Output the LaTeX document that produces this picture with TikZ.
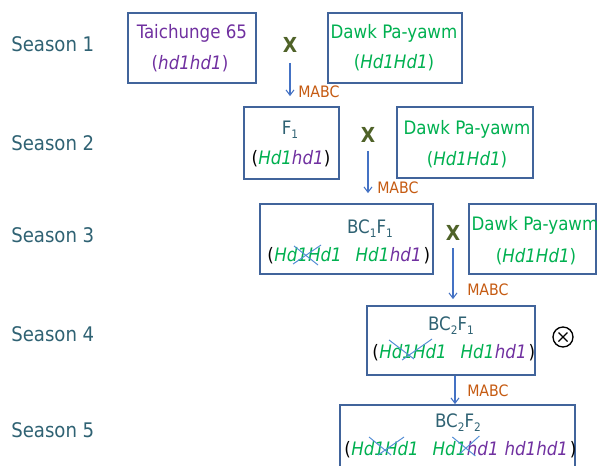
\documentclass[tikz,border=0pt]{standalone}
\usepackage{fontspec}
\setmainfont{DejaVu Sans Condensed}
\usetikzlibrary{arrows.meta}

\definecolor{seasonteal}{RGB}{47,98,115}
\definecolor{boxblue}{RGB}{65,100,155}
\definecolor{genepurple}{RGB}{112,48,160}
\definecolor{genegreen}{RGB}{0,176,80}
\definecolor{mabcbrown}{RGB}{197,90,17}
\definecolor{xolive}{RGB}{79,98,40}
\definecolor{arrowblue}{RGB}{68,114,196}
\definecolor{crossblue}{RGB}{85,142,213}

% lowered small index, as in F_1 or BC_2
\newcommand\lowidx[1]{\raisebox{-0.45ex}{\fontsize{8.8}{9}\selectfont #1}}
\newcommand\geneG[1]{\textcolor{genegreen}{\itshape #1}}
\newcommand\geneP[1]{\textcolor{genepurple}{\itshape #1}}

\tikzset{
  gbox/.style={draw=boxblue, line width=1.3pt, inner sep=0pt},
  txt/.style={inner sep=0pt, anchor=base, font=\fontsize{13.9}{16}\selectfont},
  gword/.style={inner sep=0pt, anchor=base west, text=genegreen,
    font=\fontsize{13.9}{16}\selectfont\itshape},
  pword/.style={gword, text=genepurple},
  season/.style={inner sep=0pt, anchor=base west, text=seasonteal,
    font=\fontsize{15.1}{18}\selectfont},
  crossmark/.style={inner sep=1pt, text=xolive, font=\bfseries\fontsize{15.5}{18}\selectfont},
  flow/.style={draw=arrowblue, line width=0.8pt, -{Straight Barb[length=4pt,width=6pt]}},
  mabc/.style={inner sep=0pt, anchor=west, text=mabcbrown, font=\fontsize{11.8}{13}\selectfont},
  xline/.style={draw=crossblue, line width=0.75pt},
}

\begin{document}
\begin{tikzpicture}[x=0.75pt, y=-0.75pt]
\useasboundingbox (0,0) rectangle (597,465);
\clip (0,0) rectangle (597,465);

% season labels
\node[season] (s1) at (11,51)  {Season 1};
\node[season] (s2) at (11,150) {Season 2};
\node[season] (s3) at (11,242) {Season 3};
\node[season] (s4) at (11,341) {Season 4};
\node[season] (s5) at (11,437) {Season 5};

% season 1: parents
\node[gbox, minimum width=96pt, minimum height=52.5pt] (tc) at (192,48) {};
\node[txt, text=genepurple] (tcname) at (192,38.5) {Taichunge 65};
\node[txt, text=genepurple] (tcgene) at (190,69) {(\textit{hd1hd1})};

\node[gbox, minimum width=100.5pt, minimum height=52.5pt] (dp1) at (395,48) {};
\node[txt, text=genegreen] (dp1name) at (394,38) {Dawk Pa-yawm};
\node[txt, text=genegreen] (dp1gene) at (394,68) {(\textit{Hd1Hd1})};

\node[crossmark] (x1) at (290,45) {X};

% season 2: F1 backcrossed to the recurrent parent
\node[gbox, minimum width=71.25pt, minimum height=54pt] (f1) at (291.5,143) {};
\node[txt, text=seasonteal] (f1name) at (290,134) {F\lowidx{1}};
\node[txt] (f1gene) at (291,164) {(\geneG{Hd1}\geneP{hd1})};

\node[gbox, minimum width=102pt, minimum height=53.25pt] (dp2) at (465,142.5) {};
\node[txt, text=genegreen] (dp2name) at (467,134) {Dawk Pa-yawm};
\node[txt, text=genegreen] (dp2gene) at (467,165) {(\textit{Hd1Hd1})};

\node[crossmark] (x2) at (368,135) {X};

% season 3: BC1F1
\node[gbox, minimum width=129.75pt, minimum height=52.5pt] (bc11) at (346.5,239) {};
\node[txt, text=seasonteal] (bc11name) at (370,233) {BC\lowidx{1}F\lowidx{1}};
\node[txt, anchor=base west] (g3a) at (267,261) {(};
\node[gword] (g3b) at (g3a.base east) {Hd1Hd1};
\node[gword] (g3c) at ([xshift=10pt]g3b.base east) {Hd1};
\node[pword] (g3d) at (g3c.base east) {hd1};
\node[txt, anchor=base west] (g3e) at ([xshift=1pt]g3d.base east) {)};
\draw[xline] ([shift={(20,-15)}]g3b.base west) -- ([shift={(44,4)}]g3b.base west);
\draw[xline] ([shift={(19,3)}]g3b.base west) -- ([shift={(47,-16)}]g3b.base west);

\node[gbox, minimum width=95.25pt, minimum height=52.5pt] (dp3) at (532.5,239) {};
\node[txt, text=genegreen] (dp3name) at (535,230) {Dawk Pa-yawm};
\node[txt, text=genegreen] (dp3gene) at (536,262) {(\textit{Hd1Hd1})};

\node[crossmark] (x3) at (453,233) {X};

% season 4: BC2F1, selfed
\node[gbox, minimum width=126pt, minimum height=51.75pt] (bc21) at (451,340.5) {};
\node[txt, text=seasonteal] (bc21name) at (451,330) {BC\lowidx{2}F\lowidx{1}};
\node[txt, anchor=base west] (g4a) at (372,358) {(};
\node[gword] (g4b) at (g4a.base east) {Hd1Hd1};
\node[gword] (g4c) at ([xshift=10pt]g4b.base east) {Hd1};
\node[pword] (g4d) at (g4c.base east) {hd1};
\node[txt, anchor=base west] (g4e) at ([xshift=1pt]g4d.base east) {)};
\draw[xline] ([shift={(10,-18)}]g4b.base west) -- ([shift={(35,1)}]g4b.base west);
\draw[xline] ([shift={(23,2)}]g4b.base west) -- ([shift={(53,-19)}]g4b.base west);

\node[circle, draw=black, line width=1pt, minimum size=15pt, inner sep=0pt,
  path picture={
    \draw[line width=1pt] ([shift={(-4.5,-4.5)}]path picture bounding box.center)
      -- ([shift={(4.5,4.5)}]path picture bounding box.center);
    \draw[line width=1pt] ([shift={(-4.5,4.5)}]path picture bounding box.center)
      -- ([shift={(4.5,-4.5)}]path picture bounding box.center);
  }] (self) at (563,337) {};

% season 5: BC2F2
\node[gbox, minimum width=176.25pt, minimum height=52.5pt] (bc22) at (457.5,440) {};
\node[txt, text=seasonteal] (bc22name) at (458,427) {BC\lowidx{2}F\lowidx{2}};
\node[txt, anchor=base west] (g5a) at (344,455) {(};
\node[gword] (g5b) at (g5a.base east) {Hd1Hd1};
\node[gword] (g5c) at ([xshift=10pt]g5b.base east) {Hd1};
\node[pword] (g5d) at (g5c.base east) {hd1};
\node[pword] (g5e) at ([xshift=4pt]g5d.base east) {hd1hd1};
\node[txt, anchor=base west] (g5f) at ([xshift=1pt]g5e.base east) {)};
\draw[xline] ([shift={(18,-18)}]g5b.base west) -- ([shift={(40,0)}]g5b.base west);
\draw[xline] ([shift={(27,0)}]g5b.base west) -- ([shift={(53,-18)}]g5b.base west);
\draw[xline] ([shift={(20,-18)}]g5c.base west) -- ([shift={(43,1)}]g5c.base west);
\draw[xline] ([shift={(27,-1)}]g5c.base west) -- ([shift={(47,-19)}]g5c.base west);

% MABC-assisted advances between seasons
\draw[flow, shorten <=6.5pt, shorten >=7.5pt] (x1.south) -- (x1.south |- f1.north);
\draw[flow, shorten <=5pt, shorten >=7.5pt] (x2.south) -- (x2.south |- bc11.north);
\draw[flow, shorten <=4.5pt, shorten >=4.5pt] (x3.south) -- (x3.south |- bc21.north);
\draw[flow] ([xshift=3pt]bc21.south) -- ([xshift=3pt]bc21.south |- bc22.north);

\node[mabc] (m1) at (298,92)  {MABC};
\node[mabc] (m2) at (377,188) {MABC};
\node[mabc] (m3) at (467,290) {MABC};
\node[mabc] (m4) at (467,391) {MABC};
\end{tikzpicture}
\end{document}
